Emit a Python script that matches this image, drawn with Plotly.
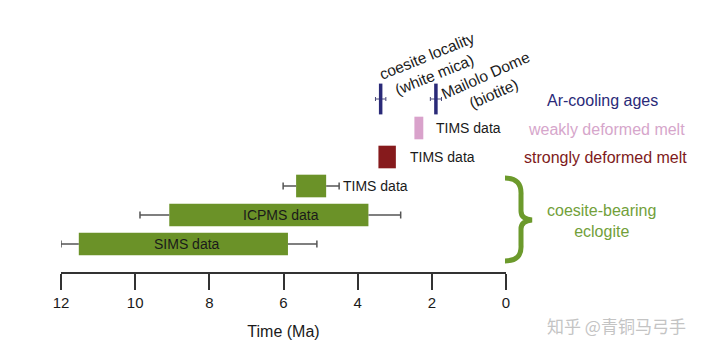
import plotly.graph_objects as go

# ---------------- data (ages in Ma) ----------------
box_labels   = ["SIMS data", "ICPMS data", "TIMS data", "TIMS data", "TIMS data"]
box_rows     = [1, 2, 3, 4, 5]
box_old      = [11.52, 9.08, 5.66, 3.44, 2.47]
box_young    = [5.88, 3.71, 4.85, 2.97, 2.23]
whisker_old  = [12.0, 9.87, 6.01, None, None]
whisker_young= [5.10, 2.84, 4.50, None, None]
box_colors   = ["#6b9228", "#6b9228", "#6b9228", "#861a1c", "#d9a2cb"]

ar_ages   = [3.38, 1.89]
ar_err    = [0.14, 0.15]
ar_row    = 6
ar_labels = ["coesite locality<br>(white mica)", "Mailolo Dome<br>(biotite)"]

tick_vals = [12, 10, 8, 6, 4, 2, 0]

FONT = "Arial, Liberation Sans, sans-serif"
GREEN_T = "#72a03a"
NAVY = "#2a2a78"
WHISK = "#555555"

# layout geometry (pixels)
L, R, T, B = 61, 214, 20, 82
W, H = 720, 354
PW, PH = W - L - R, H - T - B


def px(x):
    return (x - L) / PW


def py(y):
    return (H - B - y) / PH


fig = go.Figure()

# boxes
for lab, row, o, y, c in zip(box_labels, box_rows, box_old, box_young, box_colors):
    fig.add_trace(go.Bar(
        y=[row], base=[y], x=[o - y], orientation="h", width=0.78,
        marker=dict(color=c, line=dict(width=0)), showlegend=False, hoverinfo="skip"))

# whiskers (outside the boxes)
for row, o, y, wo, wy in zip(box_rows, box_old, box_young, whisker_old, whisker_young):
    if wo is None:
        continue
    fig.add_trace(go.Scatter(
        x=[wo, o, None, y, wy], y=[row, row, None, row, row], mode="lines",
        line=dict(color=WHISK, width=1.5), showlegend=False, hoverinfo="skip"))
    fig.add_trace(go.Scatter(
        x=[wo, wy], y=[row, row], mode="markers",
        marker=dict(symbol="line-ns", size=5, color=WHISK, line=dict(color=WHISK, width=1.5)),
        showlegend=False, hoverinfo="skip"))

# Ar-cooling ages
fig.add_trace(go.Scatter(
    x=ar_ages, y=[ar_row] * len(ar_ages), mode="markers",
    marker=dict(symbol="line-ns", size=22, color=NAVY, line=dict(color=NAVY, width=3.5)),
    error_x=dict(type="data", array=ar_err, color="#4a4a7a", thickness=1, width=2),
    showlegend=False, hoverinfo="skip"))

TXT = dict(size=14, color="#1a1a1a")
ann = []
# labels in/next to boxes
ann.append(dict(x=(box_old[0] + box_young[0]) / 2, y=box_rows[0], xref="x", yref="y",
                xanchor="center", yanchor="middle",
                text=box_labels[0], showarrow=False, xshift=4, font=TXT))
ann.append(dict(x=(box_old[1] + box_young[1]) / 2, y=box_rows[1], xref="x", yref="y",
                xanchor="center", yanchor="middle",
                text=box_labels[1], showarrow=False, xshift=12, font=TXT))
ann.append(dict(x=whisker_young[2], y=box_rows[2], xref="x", yref="y", xanchor="left",
                yanchor="middle", text=box_labels[2], showarrow=False, xshift=2, font=TXT))
ann.append(dict(x=box_young[3], y=box_rows[3], xref="x", yref="y", xanchor="left",
                yanchor="middle", text=box_labels[3], showarrow=False, xshift=12, font=TXT))
ann.append(dict(x=box_young[4], y=box_rows[4], xref="x", yref="y", xanchor="left",
                yanchor="middle", text=box_labels[4], showarrow=False, xshift=11, font=TXT))


def pann(x, y, text, size, color, angle=0, family=None):
    f = dict(size=size, color=color)
    if family:
        f["family"] = family
    return dict(x=px(x), y=py(y), xref="paper", yref="paper", text=text,
                xanchor="center", yanchor="middle", textangle=angle,
                showarrow=False, font=f)


# rotated Ar labels
ann.append(pann(430, 65, ar_labels[0], 15.5, "#1a1a1a", -22))
ann.append(pann(489, 84, ar_labels[1], 15.5, "#1a1a1a", -24))

# right-hand category labels
ann.append(pann(602, 100, "Ar-cooling ages", 16, NAVY))
ann.append(pann(606, 129, "weakly deformed melt", 16, "#d6a6cb"))
ann.append(pann(605, 157, "strongly deformed melt", 16, "#7e1a20"))
ann.append(pann(601, 221, "coesite-bearing<br>eclogite", 16, GREEN_T))

# watermark
ann.append(pann(616, 325, "知乎 @青铜马弓手", 17, "#c4c4c4", 0, "Noto Sans CJK SC"))

# curly brace
pts = [(505, 178), (522, 178), (521, 195), (521, 211), (521, 219), (532, 220),
       (521, 221), (521, 229), (521, 245), (522, 261), (505, 261)]
P = [(px(a), py(b)) for a, b in pts]
path = (f"M {P[0][0]},{P[0][1]} Q {P[1][0]},{P[1][1]} {P[2][0]},{P[2][1]} "
        f"L {P[3][0]},{P[3][1]} Q {P[4][0]},{P[4][1]} {P[5][0]},{P[5][1]} "
        f"Q {P[6][0]},{P[6][1]} {P[7][0]},{P[7][1]} "
        f"L {P[8][0]},{P[8][1]} Q {P[9][0]},{P[9][1]} {P[10][0]},{P[10][1]}")

fig.update_layout(
    width=W, height=H, margin=dict(l=L, r=R, t=T, b=B),
    paper_bgcolor="white", plot_bgcolor="white",
    font=dict(family=FONT, color="#1a1a1a"),
    barmode="overlay", showlegend=False,
    annotations=ann,
    shapes=[dict(type="path", xref="paper", yref="paper", path=path,
                 line=dict(color="#6c9a2c", width=5))],
    xaxis=dict(range=[12, 0], tickvals=tick_vals, ticktext=[str(v) for v in tick_vals],
               showgrid=False, zeroline=False, showline=True, linecolor="#333333", linewidth=2,
               ticks="outside", ticklen=16, tickwidth=2, tickcolor="#333333",
               tickfont=dict(size=15, color="#1a1a1a"),
               title=dict(text="Time (Ma)", font=dict(size=16, color="#1a1a1a"), standoff=16)),
    yaxis=dict(range=[1 - 28 / 29, 6 + 79 / 29], visible=False, fixedrange=True),
)

fig.write_html("out.html")
